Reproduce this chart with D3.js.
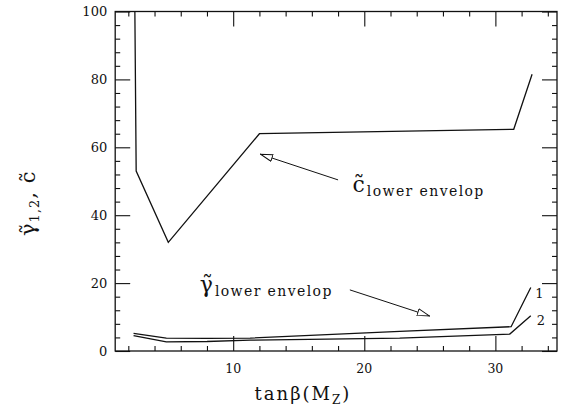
<!DOCTYPE html>
<html>
<head>
<meta charset="utf-8">
<script src="https://cdn.jsdelivr.net/npm/d3@7"></script>
<style>
  body { margin: 0; background: #fff; }
  svg text { font-family: "DejaVu Serif", serif; fill: #111; }
</style>
</head>
<body>
<div id="chart"></div>
<script>

// c-tilde lower envelope (tan beta, value)
const cTan = [2.5, 2.6, 5.05, 12.0, 31.4, 32.8];
const cVal = [100, 53, 32, 64, 65.3, 81.5];

// gamma-tilde lower envelope, curve 1
const g1Tan = [2.4, 4.9, 8.0, 11.3, 22.7, 31.2, 32.7];
const g1Val = [5.2, 3.8, 3.7, 3.8, 5.8, 7.15, 18.7];

// gamma-tilde lower envelope, curve 2
const g2Tan = [2.4, 4.9, 8.0, 11.3, 22.7, 31.1, 32.7];
const g2Val = [4.5, 2.7, 2.8, 3.2, 3.8, 5.0, 10.4];

// axis ticks
const xMajor = [10, 20, 30];
const xMinor = [2, 4, 6, 8, 12, 14, 16, 18, 22, 24, 26, 28, 32, 34];
const yMajor = [0, 20, 40, 60, 80, 100];
const yMinor = [4, 8, 12, 16, 24, 28, 32, 36, 44, 48, 52, 56, 64, 68, 72, 76, 84, 88, 92, 96];

// annotation arrows, [fromTan, fromVal, toTan, toVal]
const cArrow = [18.0, 50.4, 12.05, 58.0];
const gArrow = [18.9, 18.0, 25.0, 10.3];

const width = 561, height = 409;
const margin = {top: 11.5, right: 4, bottom: 58, left: 115.2};

const svg = d3.select('#chart')
    .append('svg')
    .attr('width', width)
    .attr('height', height);

// scales
const xScale = d3.scaleLinear()
    .domain([1, 34.7])
    .range([margin.left, width - margin.right]);

const yScale = d3.scaleLinear()
    .domain([0, 100])
    .range([height - margin.bottom, margin.top]);

const x0 = xScale.range()[0], x1 = xScale.range()[1];
const y0 = yScale.range()[0], y1 = yScale.range()[1];

// arrow head marker
svg.append('defs')
    .append('marker')
    .attr('id', 'head')
    .attr('markerUnits', 'userSpaceOnUse')
    .attr('viewBox', '0 0 13 8')
    .attr('refX', 13)
    .attr('refY', 4)
    .attr('markerWidth', 13)
    .attr('markerHeight', 8)
    .attr('orient', 'auto')
    .append('path')
    .attr('d', 'M0.5,0.6 L12.5,4 L0.5,7.4 Z')
    .attr('fill', '#fff')
    .attr('stroke', '#111')
    .attr('stroke-width', 1);

// axes: all ticks point inward
function drawAxis(axisFn, scale, values, size, transform) {
    const g = svg.append('g')
        .attr('transform', transform)
        .call(axisFn(scale).tickValues(values).tickSize(-size).tickFormat(''));
    g.select('.domain').remove();
    g.selectAll('line').attr('stroke', '#111').attr('stroke-width', 1.1);
    return g;
}

drawAxis(d3.axisBottom, xScale, xMajor, 15, 'translate(0,' + y0 + ')');
drawAxis(d3.axisBottom, xScale, xMinor, 5, 'translate(0,' + y0 + ')');
drawAxis(d3.axisTop, xScale, xMajor, 15, 'translate(0,' + y1 + ')');
drawAxis(d3.axisTop, xScale, xMinor, 5, 'translate(0,' + y1 + ')');
drawAxis(d3.axisLeft, yScale, yMajor, 15, 'translate(' + x0 + ',0)');
drawAxis(d3.axisLeft, yScale, yMinor, 5, 'translate(' + x0 + ',0)');
drawAxis(d3.axisRight, yScale, yMajor, 15, 'translate(' + x1 + ',0)');
drawAxis(d3.axisRight, yScale, yMinor, 5, 'translate(' + x1 + ',0)');

// frame
svg.append('rect')
    .attr('x', x0).attr('y', y1)
    .attr('width', x1 - x0).attr('height', y0 - y1)
    .attr('fill', 'none')
    .attr('stroke', '#111')
    .attr('stroke-width', 1.3);

// tick labels
svg.append('g')
    .selectAll('text')
    .data(xMajor)
    .join('text')
    .attr('x', d => xScale(d))
    .attr('y', y0 + 22)
    .attr('text-anchor', 'middle')
    .attr('font-size', 12.5)
    .text(d => d);

svg.append('g')
    .selectAll('text')
    .data(yMajor)
    .join('text')
    .attr('x', x0 - 8)
    .attr('y', d => yScale(d) + 4.5)
    .attr('text-anchor', 'end')
    .attr('font-size', 13)
    .text(d => d);

// curves
const line = d3.line()
    .x(d => xScale(d[0]))
    .y(d => yScale(d[1]));

const series = [
    d3.zip(cTan, cVal),
    d3.zip(g1Tan, g1Val),
    d3.zip(g2Tan, g2Val)
];

svg.append('g')
    .selectAll('path')
    .data(series)
    .join('path')
    .attr('d', line)
    .attr('fill', 'none')
    .attr('stroke', '#111')
    .attr('stroke-width', 1.3);

// annotation arrows
svg.append('g')
    .selectAll('line')
    .data([cArrow, gArrow])
    .join('line')
    .attr('x1', d => xScale(d[0]))
    .attr('y1', d => yScale(d[1]))
    .attr('x2', d => xScale(d[2]))
    .attr('y2', d => yScale(d[3]))
    .attr('stroke', '#111')
    .attr('stroke-width', 1)
    .attr('marker-end', 'url(#head)');

// annotation labels
function envelopLabel(symbol, tanB, val) {
    const t = svg.append('text')
        .attr('x', xScale(tanB))
        .attr('y', yScale(val));
    t.append('tspan')
        .attr('font-size', 22)
        .text(symbol);
    t.append('tspan')
        .attr('font-size', 14)
        .attr('dx', 2)
        .attr('dy', 4)
        .attr('letter-spacing', 1.4)
        .text('lower envelop');
}

envelopLabel('c\u0303', 19.1, 46.8);
envelopLabel('\u03b3\u0303', 7.45, 17.4);

// curve numbers
svg.append('text')
    .attr('x', xScale(33.05)).attr('y', yScale(15.6))
    .attr('font-size', 13)
    .text('1');
svg.append('text')
    .attr('x', xScale(33.15)).attr('y', yScale(7.6))
    .attr('font-size', 13)
    .text('2');

// x axis title
const xTitle = svg.append('text')
    .attr('x', 303)
    .attr('y', height - 9)
    .attr('text-anchor', 'middle')
    .attr('font-size', 18)
    .attr('letter-spacing', 2);
xTitle.append('tspan').text('tan\u03b2(M');
xTitle.append('tspan').attr('font-size', 12).attr('dy', 4).text('Z');
xTitle.append('tspan').attr('dy', -4).text(')');

// y axis title
const yTitle = svg.append('text')
    .attr('transform', 'translate(35,' + ((y0 + y1) / 2 + 22) + ') rotate(-90)')
    .attr('text-anchor', 'middle')
    .attr('font-size', 21)
    .attr('letter-spacing', 1);
yTitle.append('tspan').text('\u03b3\u0303');
yTitle.append('tspan').attr('font-size', 13).attr('dy', 4).text('1,2');
yTitle.append('tspan').attr('dy', -4).text(', c\u0303');

</script>
</body>
</html>
